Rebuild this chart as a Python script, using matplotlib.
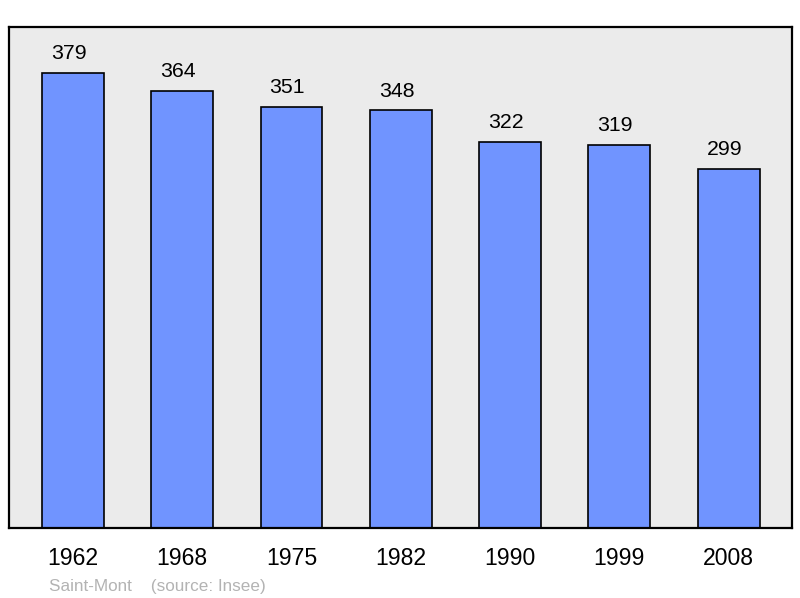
import matplotlib
matplotlib.use("Agg")
import matplotlib.pyplot as plt

years = ["1962", "1968", "1975", "1982", "1990", "1999", "2008"]
population = [379, 364, 351, 348, 322, 319, 299]

plt.rcParams['font.family'] = ['Liberation Sans', 'DejaVu Sans']

fig = plt.figure(figsize=(8, 5.98), dpi=100)
ax = fig.add_axes([9/800, 70/598, 783/800, 501/598])
ax.set_facecolor('#ebebeb')

x = list(range(len(years)))
ax.bar(x, population, width=0.567, color='#7094ff', edgecolor='black', linewidth=1.2, zorder=2)
for xi, v in zip(x, population):
    ax.annotate(str(v), (xi, v), xytext=(-3, 10), textcoords='offset points',
                ha='center', va='baseline', fontsize=15.3, color='black')

ax.set_xlim(-0.585, 6.58)
ax.set_ylim(0, 417.5)
ax.set_yticks([])
ax.set_xticks(x)
ax.set_xticklabels(years, fontsize=16.6)
ax.tick_params(axis='x', length=0, pad=13.5)
for s in ax.spines.values():
    s.set_linewidth(1.6)
    s.set_color('black')

fig.text(49/800, 1 - 586/598, "Saint-Mont    (source: Insee)", fontsize=12.3,
         color='#b3b3b3', ha='left', va='center')

fig.savefig("out.png", dpi=100)
